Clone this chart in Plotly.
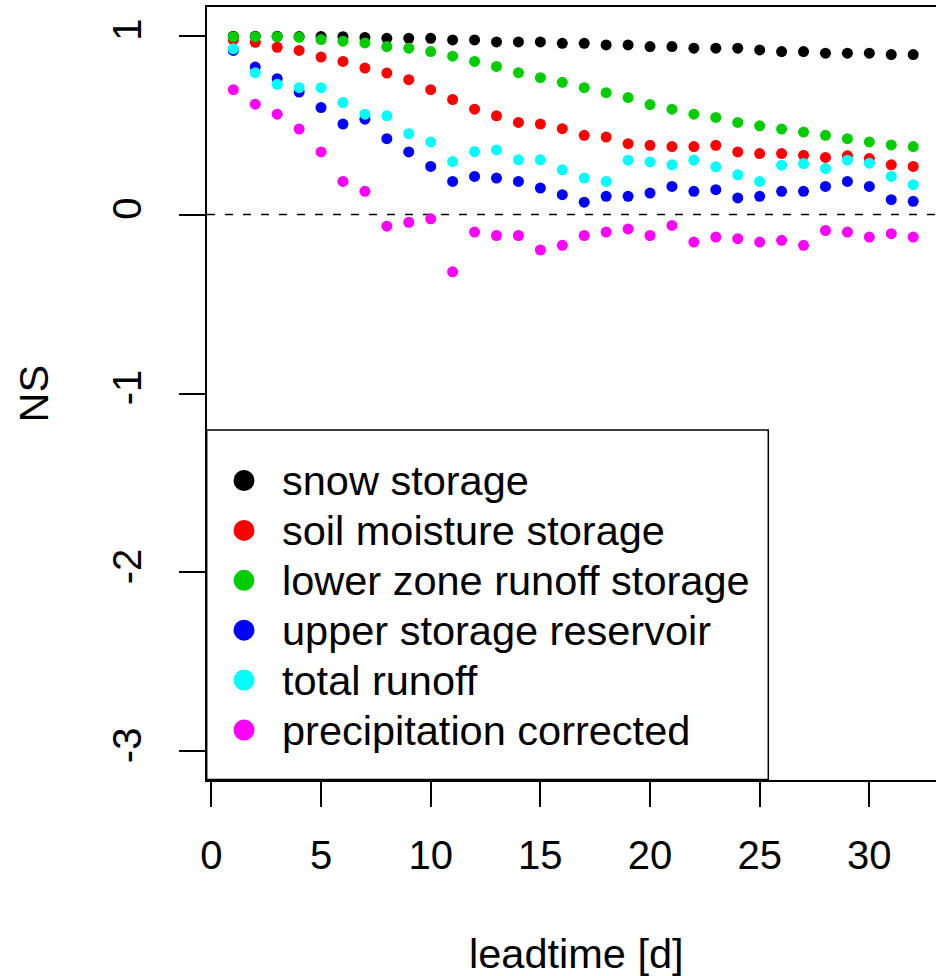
import plotly.graph_objects as go

# ---------------- data ----------------
leadtime = list(range(1, 33))

series_names = [
    "snow storage",
    "soil moisture storage",
    "lower zone runoff storage",
    "upper storage reservoir",
    "total runoff",
    "precipitation corrected",
]

snow_storage = [0.997, 0.997, 0.996, 0.995, 0.995, 0.994, 0.990, 0.985, 0.985, 0.985,
                0.976, 0.976, 0.965, 0.965, 0.965, 0.957, 0.957, 0.948, 0.948, 0.939,
                0.939, 0.930, 0.930, 0.930, 0.920, 0.911, 0.911, 0.902, 0.902, 0.902,
                0.894, 0.894]
soil_moisture = [0.976, 0.963, 0.935, 0.917, 0.880, 0.856, 0.819, 0.791, 0.754, 0.698,
                 0.643, 0.589, 0.552, 0.515, 0.506, 0.480, 0.443, 0.433, 0.396, 0.387,
                 0.380, 0.380, 0.387, 0.350, 0.341, 0.341, 0.331, 0.319, 0.328, 0.313,
                 0.278, 0.269]
lower_zone = [0.994, 0.994, 0.994, 0.991, 0.978, 0.969, 0.959, 0.939, 0.930, 0.911,
              0.885, 0.856, 0.828, 0.793, 0.765, 0.739, 0.709, 0.681, 0.654, 0.615,
              0.589, 0.561, 0.543, 0.515, 0.496, 0.478, 0.461, 0.443, 0.424, 0.406,
              0.389, 0.380]
upper_storage = [0.917, 0.824, 0.759, 0.685, 0.598, 0.506, 0.533, 0.424, 0.350, 0.269,
                 0.185, 0.213, 0.204, 0.185, 0.148, 0.111, 0.069, 0.102, 0.102, 0.120,
                 0.157, 0.130, 0.139, 0.093, 0.102, 0.130, 0.130, 0.157, 0.185, 0.157,
                 0.083, 0.074]
total_runoff = [0.926, 0.793, 0.728, 0.709, 0.709, 0.626, 0.561, 0.552, 0.452, 0.406,
                0.296, 0.352, 0.361, 0.306, 0.306, 0.250, 0.204, 0.185, 0.304, 0.294,
                0.278, 0.304, 0.267, 0.222, 0.185, 0.276, 0.285, 0.257, 0.304, 0.287,
                0.213, 0.167]
precip_corrected = [0.698, 0.617, 0.561, 0.478, 0.350, 0.185, 0.130, -0.065, -0.043, -0.024,
                    -0.320, -0.098, -0.117, -0.117, -0.198, -0.172, -0.117, -0.098, -0.080, -0.117,
                    -0.061, -0.154, -0.126, -0.135, -0.154, -0.144, -0.172, -0.089, -0.098, -0.126,
                    -0.107, -0.126]

series_values = [snow_storage, soil_moisture, lower_zone, upper_storage, total_runoff, precip_corrected]
colors = ["#000000", "#FF0000", "#00CD00", "#0000FF", "#00FFFF", "#FF00FF"]

x_ticks = [0, 5, 10, 15, 20, 25, 30]
y_ticks = [-3, -2, -1, 0, 1]
y_ticklabels = ["-3", "-2", "-1", "0", "1"]

x_title = "leadtime [d]"
y_title = "NS"

# ---------------- layout constants (pixels) ----------------
W, H = 936, 976
ML, MR, MT, MB = 207, 0, 7, 196
PW, PH = W - ML - MR, H - MT - MB
FONT = "Liberation Sans, Arial, sans-serif"
FS = 40
FS_TXT = 41.5


def px_x(px):
    return (px - ML) / PW


def px_y(py):
    return (H - MB - py) / PH


fig = go.Figure()
for name, vals, col in zip(series_names, series_values, colors):
    fig.add_trace(go.Scatter(
        x=leadtime, y=vals, mode="markers", name=name,
        marker=dict(color=col, size=11, line=dict(width=0)),
        showlegend=False, cliponaxis=True,
    ))

shapes = []
# dashed zero line
shapes.append(dict(type="line", xref="paper", yref="y", x0=0, x1=1, y0=0, y1=0,
                   line=dict(color="black", width=1.6, dash="8px,10px"), layer="below"))

# legend box
leg_left, leg_right, leg_top, leg_bottom = 206.7, 768.3, 430, 779.5
shapes.append(dict(type="rect", xref="paper", yref="paper",
                   x0=px_x(leg_left), x1=px_x(leg_right), y0=px_y(leg_bottom), y1=px_y(leg_top),
                   line=dict(color="black", width=1.5), fillcolor="white", layer="above"))

row0, row_step = 480.5, 49.9
dot_x, text_x = 244, 280
annotations = []
for i, (name, col) in enumerate(zip(series_names, colors)):
    ry = row0 + i * row_step
    shapes.append(dict(type="circle", xref="paper", yref="paper",
                       xsizemode="pixel", ysizemode="pixel",
                       xanchor=px_x(dot_x), yanchor=px_y(ry),
                       x0=-10.5, x1=10.5, y0=-10.5, y1=10.5,
                       fillcolor=col, line=dict(width=0), layer="above"))
    annotations.append(dict(text=name, xref="paper", yref="paper",
                            x=px_x(text_x), y=px_y(ry), xanchor="left", yanchor="middle",
                            showarrow=False, font=dict(family=FONT, size=FS_TXT, color="black")))

# axis titles
annotations.append(dict(text=x_title, xref="paper", yref="paper",
                        x=px_x(576), y=px_y(953), xanchor="center", yanchor="middle",
                        showarrow=False, font=dict(family=FONT, size=FS_TXT, color="black")))
annotations.append(dict(text=y_title, xref="paper", yref="paper",
                        x=px_x(33), y=px_y(393.5), xanchor="center", yanchor="middle",
                        textangle=-90, showarrow=False,
                        font=dict(family=FONT, size=FS_TXT, color="black")))

fig.update_layout(
    width=W, height=H, autosize=False,
    margin=dict(l=ML, r=MR, t=MT, b=MB, pad=0),
    paper_bgcolor="white", plot_bgcolor="white",
    font=dict(family=FONT, size=FS, color="black"),
    shapes=shapes, annotations=annotations,
    showlegend=False,
)
fig.update_xaxes(
    range=[-0.2, 33.04], tickmode="array", tickvals=x_ticks,
    ticks="outside", ticklen=25, tickwidth=1.5, tickcolor="black",
    showline=True, linecolor="black", linewidth=1.5, mirror=True,
    showgrid=False, zeroline=False, ticklabelstandoff=14,
    tickfont=dict(family=FONT, size=FS, color="black"),
)
fig.update_yaxes(
    range=[-3.16, 1.16], tickmode="array", tickvals=y_ticks, ticktext=y_ticklabels,
    ticks="outside", ticklen=26, tickwidth=1.5, tickcolor="black", tickangle=-90,
    showline=True, linecolor="black", linewidth=1.5, mirror=False,
    showgrid=False, zeroline=False, ticklabelstandoff=22,
    tickfont=dict(family=FONT, size=FS, color="black"),
)

fig.write_html("out.html")
